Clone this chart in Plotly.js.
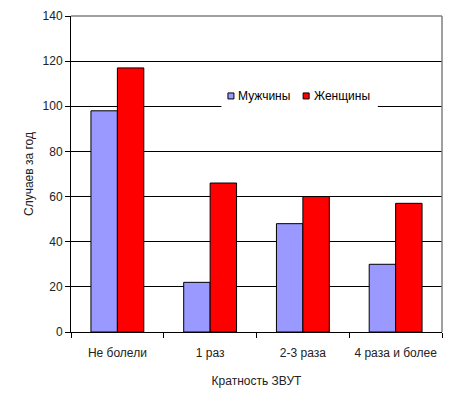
<!DOCTYPE html>
<html>
<head>
<meta charset="utf-8">
<script src="https://cdn.plot.ly/plotly-3.0.1.min.js"></script>
<style>html,body{margin:0;padding:0;background:#fff;}#chart{width:460px;height:396px;}</style>
</head>
<body>
<div id="chart"></div>
<script>
var categories = ["Не болели", "1 раз", "2-3 раза", "4 раза и более"];
var men = [98, 22, 48, 30];
var women = [117, 66, 60, 57];
var seriesNames = ["Мужчины", "Женщины"];
var seriesColors = ["#9999FF", "#FF0000"];
var yTicks = [0, 20, 40, 60, 80, 100, 120, 140];

var fam = "Arial, 'Liberation Sans', sans-serif";
var font = {family: fam, size: 12, color: "#222"};

var data = [
  {type: "bar", x: categories, y: men, name: seriesNames[0],
   marker: {color: seriesColors[0], line: {color: "#000", width: 1}}},
  {type: "bar", x: categories, y: women, name: seriesNames[1],
   marker: {color: seriesColors[1], line: {color: "#000", width: 1}}}
];

// custom legend (paper coordinates)
var legX = [0.423, 0.6257];
var legTextX = [0.4486, 0.6514];
var legY = 0.747;
var sq = 0.0162, sqh = 0.0095;

var shapes = [
  {type: "line", xref: "paper", yref: "paper", x0: 0, x1: 1, y0: 1, y1: 1,
   line: {color: "#808080", width: 1.5}, layer: "above"},
  {type: "line", xref: "paper", yref: "paper", x0: 1, x1: 1, y0: 0, y1: 1,
   line: {color: "#808080", width: 1.5}, layer: "above"},
  {type: "rect", xref: "paper", yref: "paper", x0: 0.4054, x1: 0.827, y0: 0.709, y1: 0.775,
   fillcolor: "#fff", line: {width: 0}, layer: "above"}
];
var annotations = [];
for (var i = 0; i < seriesNames.length; i++) {
  shapes.push({type: "rect", xref: "paper", yref: "paper",
    x0: legX[i], x1: legX[i] + sq, y0: legY - sqh, y1: legY + sqh,
    fillcolor: seriesColors[i], line: {color: "#000", width: 1}, layer: "above"});
  annotations.push({xref: "paper", yref: "paper", x: legTextX[i], y: legY,
    xanchor: "left", yanchor: "middle", showarrow: false, text: seriesNames[i],
    font: {family: fam, size: 12, color: "#000"}, borderpad: 0});
}

var layout = {
  width: 460, height: 396,
  margin: {l: 71, r: 18, t: 16, b: 64},
  paper_bgcolor: "#fff", plot_bgcolor: "#fff",
  font: font,
  barmode: "group", bargap: 0.43, bargroupgap: 0,
  showlegend: false,
  xaxis: {
    type: "category", tickson: "boundaries", ticks: "outside", ticklen: 5,
    tickcolor: "#000", showline: true, linecolor: "#000", linewidth: 1,
    showgrid: false, tickfont: {size: 12, color: "#222"}, ticklabelstandoff: 10,
    title: {text: "Кратность ЗВУТ", font: {size: 12, color: "#222"}, standoff: 17}
  },
  yaxis: {
    range: [0, 140], tickvals: yTicks, ticks: "outside", ticklen: 5, tickcolor: "#000",
    showline: true, linecolor: "#000", linewidth: 1,
    showgrid: true, gridcolor: "#000", gridwidth: 1, zeroline: false,
    tickfont: {size: 12, color: "#222"},
    title: {text: "Случаев за год", font: {size: 12, color: "#222"}, standoff: 6}
  },
  shapes: shapes,
  annotations: annotations
};

Plotly.newPlot("chart", data, layout, {displayModeBar: false, staticPlot: true});
</script>
</body>
</html>
